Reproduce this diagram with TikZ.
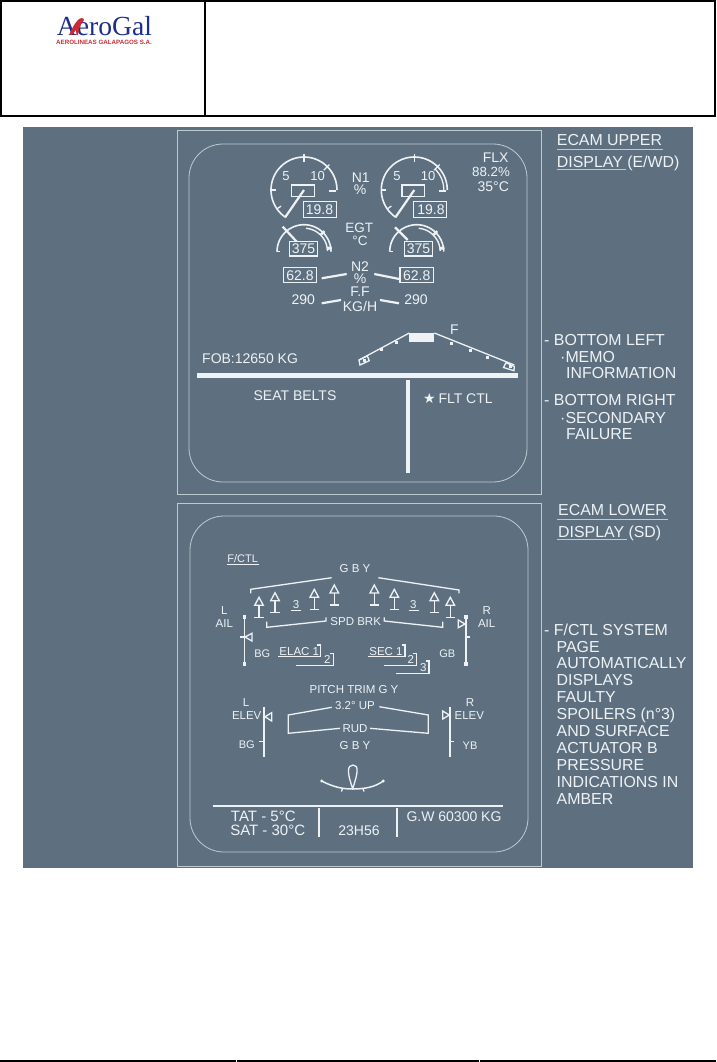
\documentclass[tikz,border=0pt]{standalone}
\usepackage{fontspec}
\setmainfont{Liberation Sans}
\newfontfamily\logofont{Liberation Serif}
\newfontfamily\symfont{DejaVu Sans}
\usetikzlibrary{calc}
\definecolor{panelgrey}{RGB}{94,112,128}
\definecolor{framegrey}{RGB}{190,202,210}
\definecolor{dispwhite}{RGB}{238,242,245}
\definecolor{logoblue}{RGB}{28,47,140}
\definecolor{logored}{RGB}{200,45,55}
\newcommand{\gaugearc}[5]{plot[domain=#4:#5,samples=30,smooth] ({#1+#3*cos(\x)},{#2-#3*sin(\x)})}
\newcommand{\gaugetick}[5]{({#1+#3*cos(#5)},{#2-#3*sin(#5)}) -- ({#1+#4*cos(#5)},{#2-#4*sin(#5)})}

\begin{document}
\begin{tikzpicture}[x=1pt,y=-1pt,
    big/.style={text=dispwhite,inner sep=0pt,font=\fontsize{14}{16}\selectfont},
    small/.style={text=dispwhite,inner sep=0pt,font=\fontsize{11.5}{13}\selectfont},
    note/.style={text=dispwhite,inner sep=0pt,anchor=base west,font=\fontsize{15.9}{17}\selectfont},
    disp/.style={draw=dispwhite,line width=1.3pt},
    dispthick/.style={draw=dispwhite,line width=2.2pt},
    valbox/.style={draw=dispwhite,line width=1.3pt,fill=none},
    screen/.style={draw=framegrey,line width=0.8pt,rounded corners=34pt},
    frame/.style={draw=framegrey,line width=1pt}]
    \useasboundingbox (0,0) rectangle (716,1062);
    \fill[white] (0,0) rectangle (716,1062);

    \draw[black,line width=2pt] (1,1) rectangle (715,116);
    \draw[black,line width=2pt] (204.5,1) -- (204.5,116);
    \node[anchor=base,text=logoblue,inner sep=0pt,font=\logofont\fontsize{27.6}{30}\selectfont] (logoname) at (104.5,35.5) {AeroGal};
    \node[anchor=base,text=logored,inner sep=0pt,font=\bfseries\fontsize{6.2}{7}\selectfont] (logosub) at (104,44.3) {AEROLINEAS GALAPAGOS S.A.};
    \fill[logored] (69,35) .. controls (72,29) and (74,24) .. (78,20) .. controls (80,17.5) and (84,17.5) .. (84,20) .. controls (84,22) and (82,22) .. (81,24) -- (79,29) -- (78,35) -- (76.5,35) -- (76,30) -- (72,35) -- cycle;

    \fill[panelgrey] (23,127) rectangle (693,868);
    \draw[frame] (177,131) rectangle (541,494);
    \draw[frame] (177,503) rectangle (541,866);
    \draw[screen] (189,144) rectangle (527,482);
    \draw[screen] (190,516) rectangle (528,852);

    \foreach \gx/\bx in {304/0,414.3/110.3} {
        \draw[disp,line width=1.6pt] \gaugearc{\gx}{190}{33}{0}{235};
        \draw[disp] (\gx+25,191) -- (\gx+32,191);
        \foreach \ga in {45,90}
            \draw[disp] \gaugetick{\gx}{190}{28}{36}{\ga};
        \foreach \ga in {180,215}
            \draw[disp] \gaugetick{\gx}{190}{28}{33}{\ga};
        \draw[disp,line width=2.2pt] (\gx,190) -- (\gx-19,217.5);
        \draw[valbox] (291.7+\bx,185) rectangle (314.3+\bx,196.7);
        \draw[valbox] (303.3+\bx,201.7) rectangle (336.3+\bx,217.3);
    }
    \draw[disp] \gaugearc{414.3}{190}{29.5}{0}{45};
    \node[small,font=\fontsize{13}{15}\selectfont] (fivea) at (286,176) {5};
    \node[small,font=\fontsize{13}{15}\selectfont] (tena) at (317.5,176.5) {10};
    \node[small,font=\fontsize{13}{15}\selectfont] (fiveb) at (397,176.5) {5};
    \node[small,font=\fontsize{13}{15}\selectfont] (tenb) at (428,176.5) {10};
    \node[big] (nonea) at (319.5,209.5) {19.8};
    \node[big] (noneb) at (431,209.5) {19.8};
    \node[big] (nonelab) at (360.7,177.3) {N1};
    \node[big] (nonepct) at (360,190) {\%};
    \node[big] (flx) at (495.7,157.7) {FLX};
    \node[big,font=\fontsize{13.3}{15}\selectfont] (flxpct) at (491,172.3) {88.2\%};
    \node[big] (flxtemp) at (493.3,186.7) {35°C};

    \foreach \gx in {304,416.7} {
        \draw[disp,line width=1.6pt] \gaugearc{\gx}{251.7}{27}{0}{180};
        \draw[disp,line width=1.4pt] \gaugearc{\gx}{251.7}{23.5}{2}{85};
        \draw[disp] (\gx-27,251.7) -- (\gx-24,251.7);
        \draw[disp,line width=3pt] \gaugetick{\gx}{251.7}{23}{28}{8};
        \draw[disp,line width=2.5pt] \gaugetick{\gx}{251.7}{24}{29}{45};
    }
    \draw[disp,line width=2.2pt] (282.7,226.7) -- (296.7,241.7);
    \draw[disp,line width=2.2pt] (395,227.3) -- (407.7,240);
    \draw[valbox,fill=panelgrey] (289.3,241.7) rectangle (317.7,256);
    \draw[valbox,fill=panelgrey] (404.7,241.7) rectangle (432.3,256);
    \node[big] (egta) at (303.5,249) {375};
    \node[big] (egtb) at (418.5,249) {375};
    \node[big,font=\fontsize{13.5}{15}\selectfont] (egtlab) at (359.3,228.3) {EGT};
    \node[big,font=\fontsize{13.5}{15}\selectfont] (egtunit) at (360,241) {°C};

    \draw[valbox] (283.3,267.7) rectangle (316.7,282.7);
    \draw[valbox] (400,267.3) rectangle (433.3,282.7);
    \node[big] (ntwoa) at (300,275.3) {62.8};
    \node[big] (ntwob) at (416.7,275.3) {62.8};
    \node[big] (ntwolab) at (360,266.7) {N2};
    \node[big] (ntwopct) at (360,279) {\%};
    \draw[dispthick] (321.7,278.3) -- (346.7,274);
    \draw[dispthick] (374.3,274) -- (399.3,279);
    \node[big] (fflab) at (360,291.3) {F.F};
    \node[big] (ffunit) at (360,306.7) {KG/H};
    \node[big] (ffa) at (303.3,300) {290};
    \node[big] (ffb) at (416,300) {290};
    \draw[dispthick] (321.7,303.3) -- (341,300);
    \draw[dispthick] (380,300) -- (399,303.3);

    \node[big] (flap) at (454.3,330) {F};
    \draw[disp] (359,360) -- (409.3,333);
    \draw[disp] (434.3,333) -- (514.3,365);
    \fill[dispwhite] (409.3,332.7) rectangle (434.3,341.7);
    \draw[disp] (359,360) -- (367.3,356) -- (369.3,360.7) -- (360,365) -- cycle;
    \draw[disp] (506,362.7) -- (514.3,366.5) -- (514,370.7) -- (503.5,367.5) -- cycle;
    \foreach \sx/\sy in {364/360,381.7/349.3,396/342.7,451.7/343.3,470.7/350.7,487.7/357.7,510/366}
        \fill[dispwhite] (\sx-1.5,\sy-1.5) rectangle (\sx+1.5,\sy+1.5);
    \node[big,anchor=west] (fob) at (202,358.3) {FOB:12650 KG};
    \draw[dispwhite,line width=5pt] (197.3,375) -- (518.3,375);
    \draw[dispwhite,line width=4pt] (408.3,380) -- (408.3,473.3);
    \node[big] (memo) at (295,396) {SEAT BELTS};
    \node[text=dispwhite,inner sep=0pt,font=\symfont\fontsize{14}{16}\selectfont] (star) at (429.5,398.5) {★};
    \node[big,anchor=west] (failure) at (438.3,399) {FLT CTL};

    \node[small,font=\fontsize{11}{13}\selectfont] (page) at (242.7,558.3) {F/CTL};
    \draw[disp] (227.3,564.3) -- (259,564.3);
    \node[small] (gbytop) at (355,569) {G B Y};
    \draw[disp] (250.7,593.3) -- (250.7,589.3) -- (331.7,577.7);
    \draw[disp] (459,593.3) -- (459,590) -- (378.3,577.7);
    \foreach \sx/\sy in {259/597.3,275/592.7,314.3/589.3,334.3/585,374.3/585,394.3/589.3,434.3/592.7,450.3/597.3} {
        \draw[disp] (\sx,\sy) -- (\sx-4.3,\sy+8) -- (\sx+4.3,\sy+8) -- cycle;
        \draw[disp] (\sx,\sy+8) -- (\sx,\sy+20);
        \draw[disp] (\sx-4.7,\sy+20) -- (\sx+4.7,\sy+20);
    }
    \node[small] (spoilera) at (296,605) {3};
    \draw[disp] (291,610.7) -- (301,610.7);
    \node[small] (spoilerb) at (413.3,605) {3};
    \draw[disp] (408.7,610.7) -- (418.7,610.7);
    \draw[disp] (266.7,621.7) -- (266.7,627.3) -- (326,621) -- (326,617.3);
    \draw[disp] (384.3,617.3) -- (384.3,621) -- (442.7,627.3) -- (442.7,621.7);
    \node[small] (spdbrk) at (355.7,621.7) {SPD BRK};
    \node[small] (ailla) at (224.3,610.7) {L};
    \node[small] (aillb) at (224.3,624) {AIL};
    \node[small] (ailra) at (486.7,610.7) {R};
    \node[small] (ailrb) at (486.7,624) {AIL};

    \foreach \sx in {244.3,465.7} {
        \draw[disp,line width=1.6pt] (\sx,615) -- (\sx,665);
        \draw[disp,line width=1pt] (\sx-1.3,615) rectangle (\sx+1.3,618);
        \draw[disp,line width=1pt] (\sx-1.3,662) rectangle (\sx+1.3,665);
    }
    \draw[disp] (240,637) -- (244.3,637);
    \draw[disp] (465.7,637) -- (470,637);
    \draw[disp] (252,633.3) -- (252,641) -- (245,637) -- cycle;
    \draw[disp] (458.3,620) -- (458.3,627.7) -- (465,624) -- cycle;
    \node[small,font=\fontsize{11}{13}\selectfont] (bgail) at (262.3,653.3) {BG};
    \node[small,font=\fontsize{11}{13}\selectfont] (gbail) at (447.3,653.3) {GB};
    \node[small] (elacone) at (299.3,651.7) {ELAC 1};
    \draw[disp] (278.3,656.7) -- (320.7,656.7) -- (320.7,645) -- (317.3,645);
    \node[small] (elactwo) at (327.3,659) {2};
    \draw[disp] (296,665.3) -- (333.3,665.3) -- (333.3,653.3) -- (330,653.3);
    \node[small] (secone) at (386,651.7) {SEC 1};
    \draw[disp] (368.3,656.7) -- (405,656.7) -- (405,645) -- (401.7,645);
    \node[small] (sectwo) at (410.7,659) {2};
    \draw[disp] (384,665.7) -- (416.7,665.7) -- (416.7,653.3) -- (413.3,653.3);
    \node[small] (secthree) at (423.3,667.3) {3};
    \draw[disp] (396,673.3) -- (429,673.3) -- (429,661) -- (425.7,661);

    \node[small] (pitch) at (354,689.3) {PITCH TRIM G Y};
    \node[small] (trim) at (355,705.7) {3.2° UP};
    \node[small] (elevla) at (246,702.3) {L};
    \node[small] (elevlb) at (246.7,715.7) {ELEV};
    \node[small] (elevra) at (470,702.3) {R};
    \node[small] (elevrb) at (469.3,715.7) {ELEV};
    \draw[disp,line width=1.6pt] (264,706.7) -- (264,756.7);
    \draw[disp,line width=1.6pt] (450,706.7) -- (450,756.7);
    \draw[disp] (259.3,741.7) -- (264,741.7);
    \draw[disp] (450,741.7) -- (454,741.7);
    \draw[disp] (271.7,712.7) -- (271.7,721) -- (265,716.7) -- cycle;
    \draw[disp] (442.7,711) -- (442.7,719) -- (449.3,715) -- cycle;
    \node[small,font=\fontsize{11}{13}\selectfont] (bgelev) at (246.7,745) {BG};
    \node[small,font=\fontsize{11}{13}\selectfont] (ybelev) at (470,745.7) {YB};
    \draw[disp] (331.7,707.3) -- (288.3,715) -- (288.3,733.3) -- (340,728.3);
    \draw[disp] (370,728.3) -- (428.3,733.3) -- (428.3,715) -- (379.3,706.7);
    \node[small] (rud) at (355,729) {RUD};
    \node[small] (gbybot) at (355,745.7) {G B Y};

    \draw[disp] (352.7,788.5) .. controls (347,773) and (347,765) .. (353,765) .. controls (359,765) and (358,773) .. (352.7,788.5);
    \draw[disp,line width=1.5pt] (321.7,781) .. controls (335,788) and (345,789) .. (352.7,789) .. controls (365,789) and (375,787) .. (383.3,781);
    \fill[dispwhite] (321.7,781) circle (1.6);
    \fill[dispwhite] (383.3,781) circle (1.6);
    \draw[disp] (342.5,788.5) -- (341.5,791.5);
    \draw[disp] (363,788.5) -- (364,791.5);

    \draw[dispthick] (212.7,806) -- (503.3,806);
    \draw[dispthick] (319.3,808) -- (319.3,837);
    \draw[dispthick] (396.7,808) -- (396.7,837);
    \node[big,font=\fontsize{15}{17}\selectfont] (tat) at (263.3,816) {TAT - 5°C};
    \node[big,font=\fontsize{15}{17}\selectfont] (sat) at (267.7,830.7) {SAT - 30°C};
    \node[big] (clock) at (359,830.7) {23H56};
    \node[big] (gw) at (454,816.7) {G.W 60300 KG};

    \node[note] (uppera) at (556.7,146) {ECAM UPPER};
    \draw[framegrey,line width=1pt] (556.7,149.5) -- (662.5,149.5);
    \node[note] (upperb) at (556.7,167) {DISPLAY (E/WD)};
    \draw[framegrey,line width=1pt] (556.7,169.5) -- (626,169.5);
    \node[note] (bleft) at (544,345.5) {- BOTTOM LEFT};
    \node[note] (bleftb) at (560,362) {·MEMO};
    \node[note] (bleftc) at (566,378) {INFORMATION};
    \node[note] (bright) at (544,405.5) {- BOTTOM RIGHT};
    \node[note] (brightb) at (560,423) {·SECONDARY};
    \node[note] (brightc) at (566,439) {FAILURE};

    \node[note] (lowera) at (558,515) {ECAM LOWER};
    \draw[framegrey,line width=1pt] (557,519) -- (668,519);
    \node[note] (lowerb) at (558,537) {DISPLAY (SD)};
    \draw[framegrey,line width=1pt] (557,539.5) -- (626.5,539.5);
    \node[note] (sysa) at (544,635.5) {- F/CTL SYSTEM};
    \foreach \txt [count=\i] in {PAGE,AUTOMATICALLY,DISPLAYS,FAULTY,SPOILERS (n°3),AND SURFACE,ACTUATOR B,PRESSURE,INDICATIONS IN,AMBER}
        \node[note] (sys\i) at (556.5,{646.5+(\i-1)*16.9+5.5}) {\txt};

    \foreach \lx/\rx in {0/236,237/479,480/716}
        \draw[black,line width=2pt] (\lx,1061) -- (\rx,1061);
\end{tikzpicture}
\end{document}
